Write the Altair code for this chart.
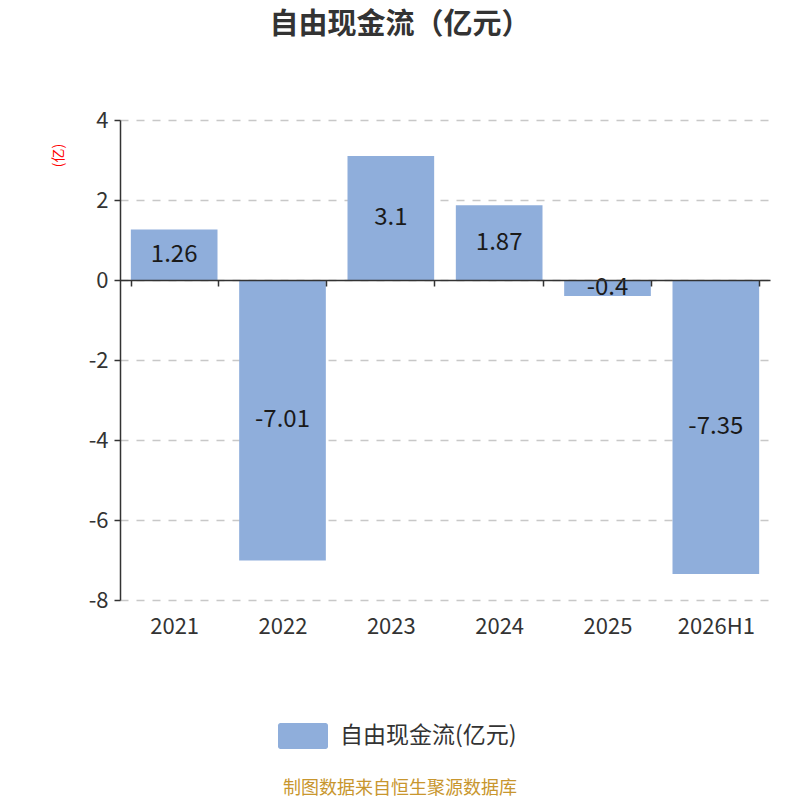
import altair as alt
import pandas as pd

title_text = "自由现金流（亿元）"
categories = ["2021", "2022", "2023", "2024", "2025", "2026H1"]
values = [1.26, -7.01, 3.1, 1.87, -0.4, -7.35]
value_labels = ["1.26", "-7.01", "3.1", "1.87", "-0.4", "-7.35"]
series_name = "自由现金流(亿元)"
y_unit = "(亿)"
source_note = "制图数据来自恒生聚源数据库"
y_ticks = [-8, -6, -4, -2, 0, 2, 4]

FONT = "Noto Sans CJK SC"
BAR = "#8FAEDB"
TXT = "#333333"

df = pd.DataFrame({
    "year": categories,
    "value": values,
    "label": value_labels,
    "series": [series_name] * len(categories),
})

x_enc = alt.X(
    "year:N", sort=categories,
    scale=alt.Scale(paddingInner=0.2, paddingOuter=0.1),
    axis=alt.Axis(
        orient="bottom", offset=-320, title=None, labelAngle=0,
        domain=True, domainColor=TXT, domainWidth=1.5,
        ticks=True, tickBand="extent", tickSize=6, tickColor=TXT, tickWidth=1.5,
        labelPadding=330, labelFontSize=22, labelColor=TXT, labelFont=FONT,
        zindex=1, grid=False,
    ),
)

y_enc = alt.Y(
    "value:Q",
    scale=alt.Scale(domain=[-8, 4], nice=False, zero=True),
    axis=alt.Axis(
        values=y_ticks, grid=True, gridDash=[8, 8], gridColor="#c8c8c8", gridWidth=1.6,
        domain=True, domainColor=TXT, domainWidth=1.5,
        ticks=True, tickSize=6, tickColor=TXT, tickWidth=1.5,
        labelFontSize=22, labelColor=TXT, labelFont=FONT, labelPadding=6,
        labelExpr="datum.value + ''",
        title=y_unit, titleColor="red", titleFontSize=14, titleFont=FONT,
        titleFontWeight="normal", titleAngle=270, titleX=-62, titleY=35,
        titleAlign="center", titleBaseline="middle",
    ),
)

legend_symbol = ("M-0.9,-0.52 H0.9 A0.1,0.1 0 0 1 1,-0.42 V0.42 A0.1,0.1 0 0 1 0.9,0.52 "
                 "H-0.9 A0.1,0.1 0 0 1 -1,0.42 V-0.42 A0.1,0.1 0 0 1 -0.9,-0.52 Z")

bars = alt.Chart(df).mark_bar().encode(
    x=x_enc,
    y=y_enc,
    color=alt.Color(
        "series:N",
        scale=alt.Scale(domain=[series_name], range=[BAR]),
        legend=alt.Legend(
            orient="none", legendX=158, legendY=591, title=None,
            symbolType=legend_symbol, symbolSize=2500, symbolStrokeWidth=0,
            symbolOpacity=1, labelLimit=0,
            labelFontSize=23, labelFont=FONT, labelColor=TXT, labelOffset=12,
            padding=0,
        ),
    ),
)

labels = alt.Chart(df).transform_calculate(
    mid="datum.value / 2"
).mark_text(fontSize=24, color="#1a1a1a", font=FONT, baseline="middle").encode(
    x=alt.X("year:N", sort=categories),
    y=alt.Y("mid:Q"),
    text="label:N",
)

note = alt.Chart(pd.DataFrame({"t": [source_note]})).mark_text(
    fontSize=18, color="#C8962E", font=FONT, align="center", baseline="middle"
).encode(
    x=alt.value(280), y=alt.value(669), text="t:N"
)

chart = alt.layer(bars, labels, note).properties(
    width=650, height=480,
    title=alt.TitleParams(
        title_text, fontSize=29, fontWeight="bold", color=TXT, font=FONT,
        anchor="middle", dx=-45, offset=69,
    ),
    padding={"left": 112, "top": 112, "right": 22, "bottom": 210},
    autosize=alt.AutoSizeParams(type="none"),
).configure(background="white").configure_view(stroke=None)

chart.save("out.html", embed_options={"renderer": "svg", "actions": False})
